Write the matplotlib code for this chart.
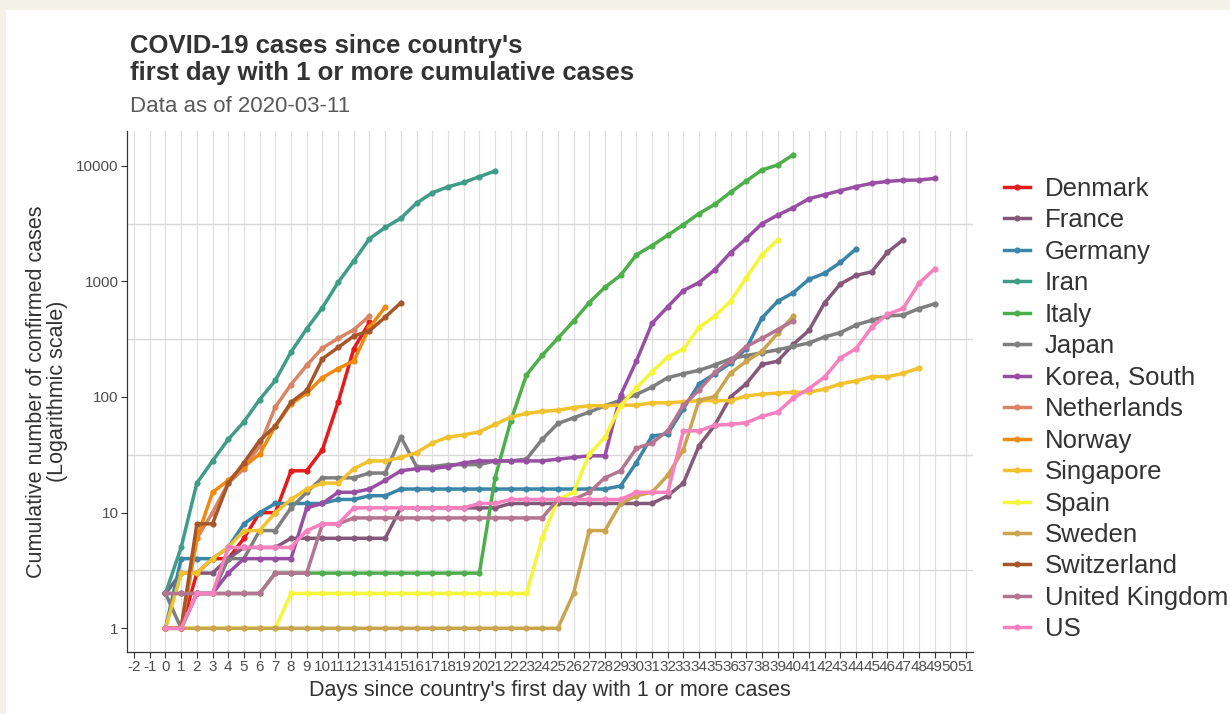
import matplotlib.pyplot as plt
import numpy as np
from matplotlib.patches import Rectangle

plt.rcParams['font.family'] = ['Liberation Sans', 'DejaVu Sans']

# cumulative confirmed cases, one value per day since first day with >= 1 case
denmark = [1, 1, 3, 4, 4, 6, 10, 10, 23, 23, 35, 90, 262, 442]
france = [2, 3, 3, 3, 4, 5, 5, 5,
          6, 6, 6, 6, 6, 6, 6, 11, 11, 11, 11, 11, 11, 11, 12, 12, 12, 12, 12,
          12, 12, 12, 12, 12, 14, 18, 38, 57, 100,
          130, 191, 204, 285, 377, 653, 949, 1126, 1209, 1784, 2284]
germany = [1, 4, 4, 4, 5,
           8, 10, 12, 12, 12, 12, 13, 13, 14, 14, 16, 16, 16, 16, 16, 16, 16,
           16, 16, 16, 16, 16, 16, 16, 17, 27, 46, 48, 79,
           130, 159, 196, 262, 482, 670, 799, 1040, 1176, 1457, 1908]
iran = [2, 5, 18, 28, 43, 61, 95, 139, 245, 388, 593,
        978, 1501, 2336, 2922, 3513, 4747, 5823, 6566, 7161, 8042, 9000]
italy = [2, 2, 2, 2, 2, 2, 2, 3, 3, 3, 3, 3, 3, 3, 3, 3, 3, 3, 3, 3, 3,
         20, 62, 155, 229, 322, 453, 655, 888, 1128,
         1694, 2036, 2502, 3089, 3858, 4636, 5883, 7375, 9172, 10149, 12462]
japan = [2, 1, 2, 2, 4, 4, 7, 7, 11, 15,
         20, 20, 20, 22, 22, 45, 25, 25, 26, 26, 26, 28, 28, 29, 43, 59, 66,
         74, 84, 94, 105, 122, 147, 159, 170, 189, 214, 228, 241,
         256, 274, 293, 331, 360, 420, 461, 502, 511, 581, 639]
korea = [1, 1, 2, 2, 3, 4, 4, 4, 4, 11,
         12, 15, 15, 16, 19, 23, 24, 24, 25, 27, 28, 28, 28, 28, 28, 29, 30,
         31, 31, 104, 204, 433, 602, 833, 977, 1261, 1766, 2337, 3150,
         3736, 4335, 5186, 5621, 6088, 6593, 7041, 7314, 7478, 7513, 7755]
netherlands = [1, 1, 6, 10, 18, 24, 38, 82, 128, 188, 265, 321, 382, 503]
norway = [1, 1, 6, 15, 19, 25, 32, 56, 87, 108, 147, 176, 205, 400, 598]
singapore = [1, 3, 3, 4, 5, 7, 7, 10, 13,
             16, 18, 18, 24, 28, 28, 30, 33, 40, 45, 47, 50, 58, 67, 72, 75,
             77, 81, 84, 84, 85, 85, 89, 89, 91, 93, 93, 93, 102,
             106, 108, 110, 110, 117, 130, 138, 150, 150, 160, 178]
spain = [1, 1, 1, 1, 1, 1, 1, 1,
         2, 2, 2, 2, 2, 2, 2, 2, 2, 2, 2, 2, 2, 2, 2, 2,
         6, 13, 15, 32, 45,
         84, 120, 165, 222, 259, 400, 500, 673, 1073, 1695, 2277]
sweden = [1] * 26 + [2, 7, 7, 12,
                     14, 15, 21, 35, 94, 101, 161, 203, 248, 355, 500]
switzerland = [1, 1, 8, 8, 18, 27, 42, 56, 90, 114, 214, 268, 337, 374, 491, 652]
uk = [2, 2, 2, 2, 2, 2, 2, 3, 3, 3, 8, 8, 9, 9, 9, 9, 9, 9, 9, 9, 9, 9, 9,
      9, 9, 13, 13, 15, 20, 23,
      36, 40, 51, 85, 115, 163, 206, 273, 321, 382, 456]
us = [1, 1, 2, 2, 5, 5, 5, 5, 5, 7,
      8, 8, 11, 11, 11, 11, 11, 11, 11, 11, 12, 12, 13, 13, 13, 13, 13, 13,
      13, 13, 15, 15, 15, 51, 51, 57, 58, 60, 68,
      74, 98, 118, 149, 217, 262, 402, 518, 583, 959, 1281]

countries = ['Denmark', 'France', 'Germany', 'Iran', 'Italy', 'Japan',
             'Korea, South', 'Netherlands', 'Norway', 'Singapore', 'Spain',
             'Sweden', 'Switzerland', 'United Kingdom', 'US']
series = [denmark, france, germany, iran, italy, japan, korea, netherlands,
          norway, singapore, spain, sweden, switzerland, uk, us]
colors = ['#E41A1C', '#85587A', '#3A85A8', '#3F9C86', '#4DAF4A', '#7F7F7F',
          '#984EA3', '#DA8466', '#F0890F', '#F2C12E', '#F5F53A', '#C9A550',
          '#A65628', '#B5748F', '#F781BF']

W, H = 1230, 714
fig = plt.figure(figsize=(W / 100, H / 100), dpi=100, facecolor='#F4F2E8')
fig.patches.append(Rectangle((6 / W, 0), 1, 1 - 10 / H, transform=fig.transFigure,
                             facecolor='white', edgecolor='none', zorder=-5))

ax = fig.add_axes([127 / W, 1 - 652 / H, 846 / W, 521 / H])
ax.set_facecolor('white')

for name, vals, col in zip(countries, series, colors):
    days = np.arange(len(vals))
    ax.plot(days, vals, color=col, lw=2.5, marker='o', ms=3.4,
            solid_joinstyle='round', label=name, zorder=3)

ax.set_yscale('log')
ax.set_xlim(-2.45, 51.45)
ax.set_ylim(10 ** -0.205, 10 ** 4.30)

xt = np.arange(-2, 52)
ax.set_xticks(xt)
ax.set_xticklabels([str(v) for v in xt])
yt = [1, 10, 100, 1000, 10000]
ax.set_yticks(yt)
ax.set_yticklabels([str(v) for v in yt])
ax.yaxis.set_minor_locator(plt.NullLocator())

for v in xt:
    ax.axvline(v, color='#E0E0E0', lw=0.9, zorder=1)
for e in [0.5, 1.5, 2.5, 3.5]:
    ax.axhline(10 ** e, color='#D8D8D8', lw=1.0, zorder=1)

for s in ['top', 'right']:
    ax.spines[s].set_visible(False)
for s in ['left', 'bottom']:
    ax.spines[s].set_color('#333333')
    ax.spines[s].set_linewidth(0.9)
ax.tick_params(axis='both', direction='out', length=4, width=0.8,
               color='#333333', labelcolor='#4D4D4D', labelsize=11, pad=2)

ax.set_xlabel("Days since country's first day with 1 or more cases",
              fontsize=15.5, color='#333333', labelpad=4)
ax.set_ylabel('Cumulative number of confirmed cases\n(Logarithmic scale)',
              fontsize=15.5, color='#333333', linespacing=1.0, labelpad=6)

fig.text(130 / W, 1 - 59.5 / H, "COVID-19 cases since country's\nfirst day with 1 or more cumulative cases",
         fontsize=18.5, fontweight='bold', color='#333333', linespacing=1.2,
         va='center', ha='left')
fig.text(130 / W, 1 - 107 / H, 'Data as of 2020-03-11', fontsize=16,
         color='#595959', va='center', ha='left')

leg = fig.legend(loc='upper left', bbox_to_anchor=(1004 / W, 1 - 177 / H),
                 frameon=False, fontsize=18.5, handlelength=1.0,
                 handletextpad=0.6, labelspacing=0.29, borderpad=0,
                 borderaxespad=0)
for t in leg.get_texts():
    t.set_color('#333333')

fig.savefig('out.png', dpi=100, facecolor=fig.get_facecolor())
